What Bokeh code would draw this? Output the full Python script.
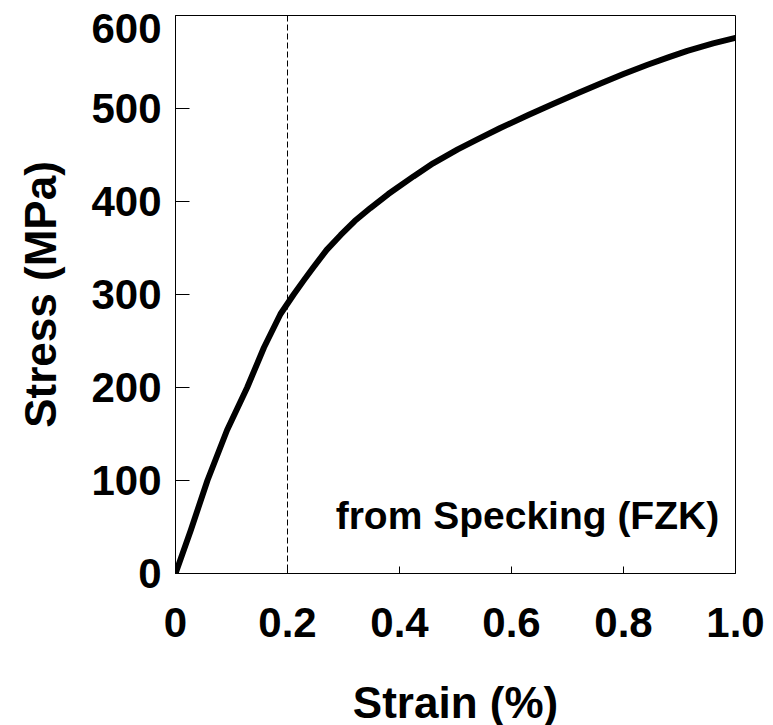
from bokeh.plotting import figure
from bokeh.models import FixedTicker, Span, Label
from bokeh.embed import file_html
from bokeh.resources import INLINE

strain = [0, 0.027, 0.057, 0.092, 0.128, 0.158, 0.1875, 0.211, 0.23, 0.246, 0.27,
          0.295, 0.32, 0.348, 0.38, 0.425, 0.46, 0.504, 0.54, 0.58, 0.63, 0.675,
          0.72, 0.759, 0.80, 0.843, 0.88, 0.914, 0.96, 1.0]
stress = [0, 46, 100, 154, 200, 243, 279, 300, 316, 329, 348,
          364, 379, 393, 408, 427, 441, 456, 467, 479, 493, 505,
          517, 527, 537, 547, 555, 562, 570, 576]
x_ticks = [0, 0.2, 0.4, 0.6, 0.8, 1.0]
x_tick_labels = ["0", "0.2", "0.4", "0.6", "0.8", "1.0"]
y_ticks = [0, 100, 200, 300, 400, 500, 600]
yield_strain = 0.2
note = "from Specking (FZK)"

FONT = "Liberation Sans"

p = figure(frame_width=560, frame_height=558, x_range=(0, 1.0), y_range=(0, 600),
           output_backend="svg", toolbar_location=None,
           min_border_left=175, min_border_top=15, min_border_right=30,
           min_border_bottom=148)
p.background_fill_color = "white"
p.border_fill_color = "white"
p.outline_line_color = "black"
p.outline_line_width = 1
p.grid.visible = False

p.line(strain, stress, line_width=6, line_color="black", line_cap="round", line_join="round")
p.add_layout(Span(location=yield_strain, dimension="height", line_color="black",
                  line_width=1, line_dash="6 3"))
p.add_layout(Label(x=0.286, y=62, text=note, text_font=FONT, text_font_style="bold",
                   text_font_size="39px", text_baseline="alphabetic", text_align="left",
                   text_color="black"))

xa = p.xaxis[0]
xa.ticker = FixedTicker(ticks=x_ticks)
xa.major_label_overrides = {t: l for t, l in zip(x_ticks, x_tick_labels)}
xa.axis_label = "Strain (%)"
ya = p.yaxis[0]
ya.ticker = FixedTicker(ticks=y_ticks)
ya.axis_label = "Stress (MPa)"
# the top label sits lower than its tick in the reference (it is kept inside the page)
top_tick = y_ticks[-1]
ya.major_label_overrides = {top_tick: "\n" + str(top_tick)}
ya.major_label_text_line_height = 0.1

for ax in (xa, ya):
    ax.axis_line_color = "black"
    ax.axis_line_width = 1
    ax.major_tick_line_color = "black"
    ax.major_tick_out = 0
    ax.minor_tick_line_color = None
    ax.major_label_text_font = FONT
    ax.major_label_text_font_style = "bold"
    ax.major_label_text_font_size = "42px"
    ax.major_label_text_color = "black"
    ax.axis_label_text_font = FONT
    ax.axis_label_text_font_style = "bold"
    ax.axis_label_text_font_size = "44px"
    ax.axis_label_text_color = "black"

xa.major_tick_in = 7
ya.major_tick_in = 14
xa.major_label_standoff = 34
xa.axis_label_standoff = 38
ya.major_label_standoff = 14
ya.axis_label_standoff = 23

open("out.html", "w").write(file_html(p, INLINE))
